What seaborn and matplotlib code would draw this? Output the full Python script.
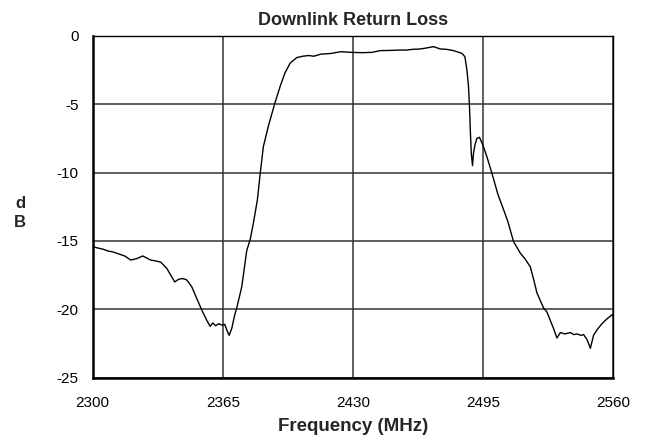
import numpy as np
import pandas as pd
import matplotlib
matplotlib.use("Agg")
import matplotlib.pyplot as plt
import seaborn as sns

# ------------------------------------------------------------
# Data
# ------------------------------------------------------------

freq_mhz = [2300, 2302, 2305, 2308, 2310, 2313, 2316, 2319, 2322, 2325,
            2327, 2329, 2331, 2334, 2337, 2339, 2341, 2343, 2345, 2347,
            2349.5, 2352, 2354.5, 2357, 2358.7, 2360, 2361.5, 2363, 2364.5, 2366,
            2367, 2368.2, 2369.5, 2371, 2372, 2374.5, 2377, 2378.7, 2380.3, 2382.3,
            2383.7, 2385.3, 2387.8, 2391, 2393.7, 2396, 2398.7, 2402, 2405, 2408,
            2410.5, 2414, 2419, 2424, 2429.5, 2435, 2439.5, 2443.7, 2448, 2453.7,
            2457, 2460.3, 2463, 2466, 2470.3, 2473.7, 2477, 2480.3, 2484.5, 2486,
            2487, 2487.8, 2488.3, 2488.7, 2489.2, 2489.8, 2490.3, 2491, 2492, 2493.3,
            2495, 2497, 2499.5, 2502.5, 2505.3, 2507.5, 2510.3, 2513.7, 2516, 2518.7,
            2520.5, 2522, 2525.3, 2527, 2530.3, 2532, 2533.7, 2536, 2538.7, 2540.5,
            2542, 2544, 2545.3, 2547, 2548.7, 2550.3, 2552, 2554.5, 2557, 2559.5,
            2560]

return_loss_db = [-15.4, -15.5, -15.6, -15.75, -15.8, -15.95, -16.1, -16.4, -16.3, -16.1,
                  -16.25, -16.4, -16.45, -16.55, -17.0, -17.5, -18.0, -17.8, -17.75, -17.85,
                  -18.35, -19.2, -20.05, -20.8, -21.25, -21.0, -21.2, -21.05, -21.15, -21.1,
                  -21.5, -21.9, -21.4, -20.4, -19.9, -18.35, -15.7, -14.9, -13.7, -12.0,
                  -10.1, -8.1, -6.6, -4.95, -3.7, -2.75, -2.0, -1.6, -1.5, -1.45,
                  -1.5, -1.35, -1.3, -1.17, -1.22, -1.24, -1.22, -1.09, -1.08, -1.05,
                  -1.05, -0.99, -0.98, -0.92, -0.8, -0.97, -1.0, -1.09, -1.29, -1.53,
                  -2.5, -3.7, -5.2, -6.9, -8.6, -9.5, -8.6, -8.0, -7.5, -7.43,
                  -8.0, -8.85, -10.05, -11.6, -12.7, -13.6, -15.05, -15.9, -16.3, -16.9,
                  -17.9, -18.8, -19.9, -20.2, -21.4, -22.1, -21.7, -21.8, -21.7, -21.85,
                  -21.8, -21.9, -21.85, -22.2, -22.85, -21.9, -21.5, -21.05, -20.7, -20.4,
                  -20.5]

x_ticks = [2300, 2365, 2430, 2495, 2560]
y_ticks = [0, -5, -10, -15, -20, -25]

df = pd.DataFrame({"freq": freq_mhz, "db": return_loss_db})

# ------------------------------------------------------------
# Plot
# ------------------------------------------------------------

sns.set_style("white")
plt.rcParams["font.family"] = ["Liberation Sans", "DejaVu Sans"]

fig, ax = plt.subplots(figsize=(6.49, 4.44), dpi=100)
fig.subplots_adjust(left=0.1428, right=0.9445, top=0.9196, bottom=0.1493)

sns.lineplot(data=df, x="freq", y="db", color="black", linewidth=1.0, ax=ax)

ax.set_xlim(2300, 2560)
ax.set_ylim(-25, 0)
ax.set_xticks(x_ticks)
ax.set_yticks(y_ticks)
ax.set_xticklabels([str(t) for t in x_ticks], fontsize=11)
ax.set_yticklabels([str(t) for t in y_ticks], fontsize=11)
ax.tick_params(axis="both", length=0, colors="black")
ax.tick_params(axis="x", pad=13)
ax.tick_params(axis="y", pad=10)

ax.grid(True, color="#333333", linewidth=1.1)
for side in ["top", "right"]:
    ax.spines[side].set_color("black")
    ax.spines[side].set_linewidth(1.0)
for side in ["left", "bottom"]:
    ax.spines[side].set_color("black")
    ax.spines[side].set_linewidth(1.8)

ax.set_title("Downlink Return Loss", fontsize=13, fontweight="bold", pad=8)
ax.set_xlabel("Frequency (MHz)", fontsize=13.5, fontweight="bold", labelpad=6)
ax.set_ylabel("")
fig.text(20 / 649, 1 - 213 / 444, "d\nB", fontsize=12, fontweight="bold",
         ha="center", va="center", linespacing=1.3)

plt.savefig("out.png", dpi=100)
